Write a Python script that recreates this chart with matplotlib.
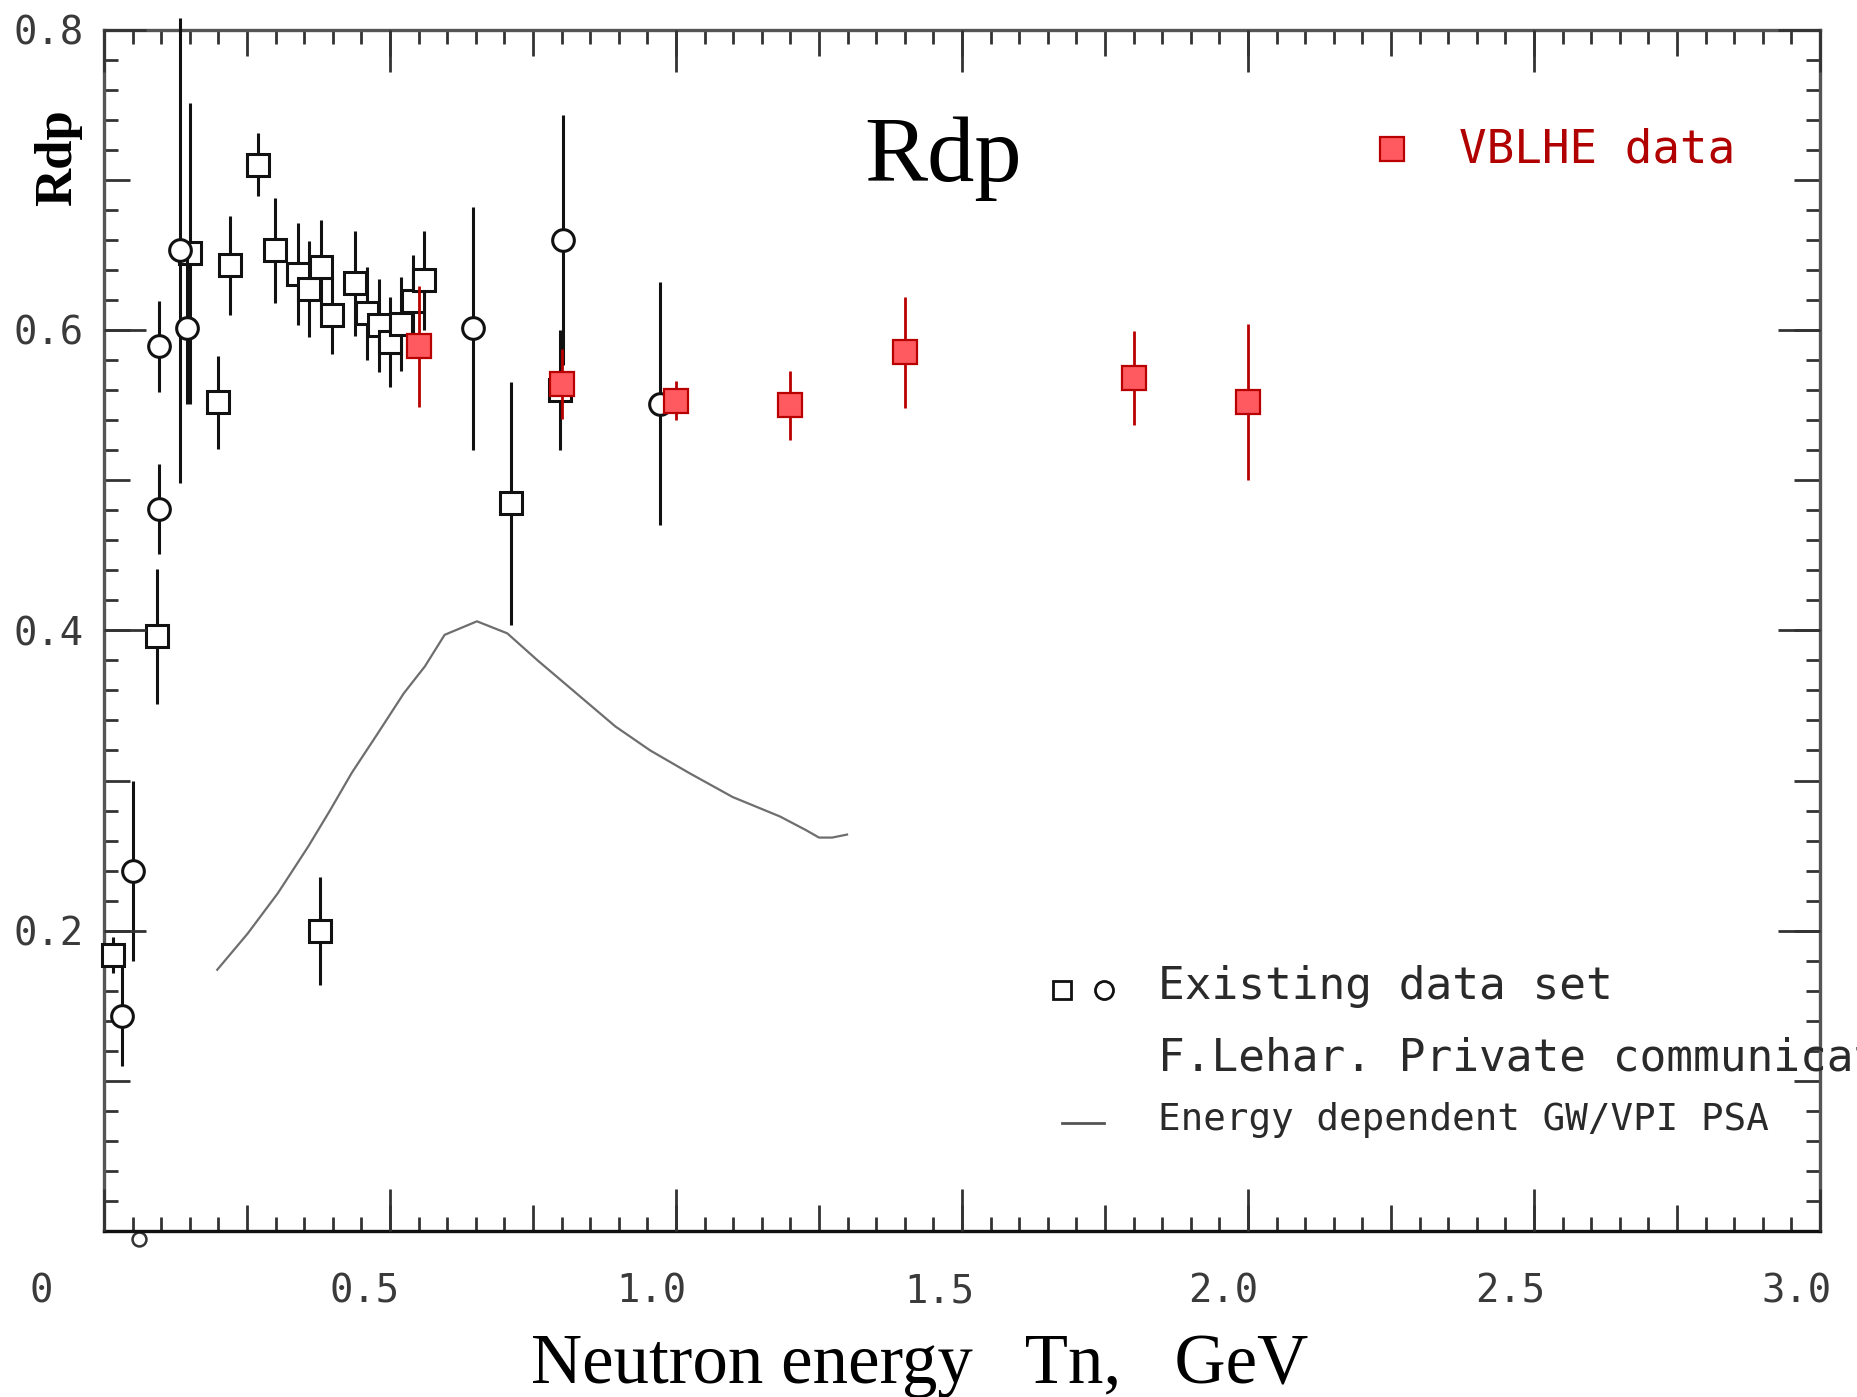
import numpy as np
import matplotlib.pyplot as plt
from matplotlib.ticker import MultipleLocator
from matplotlib.transforms import ScaledTranslation


# existing data set, squares
sq_x = [0.016, 0.092, 0.150, 0.200, 0.220, 0.269, 0.2995, 0.340, 0.359, 0.379,
        0.378, 0.398, 0.4395, 0.459, 0.480, 0.500, 0.520, 0.541, 0.559, 0.711, 0.797]
sq_y = [0.184, 0.396, 0.651, 0.552, 0.643, 0.710, 0.653, 0.637, 0.627, 0.642,
        0.200, 0.610, 0.631, 0.611, 0.603, 0.592, 0.604, 0.619, 0.633, 0.4845, 0.560]
sq_err = [0.012, 0.045, 0.100, 0.031, 0.033, 0.021, 0.035, 0.034, 0.032, 0.031,
          0.036, 0.026, 0.035, 0.031, 0.031, 0.030, 0.031, 0.031, 0.033, 0.081, 0.040]

# existing data set, circles
ci_x = [0.031, 0.050, 0.096, 0.096, 0.133, 0.1445, 0.6457, 0.802, 0.972]
ci_y = [0.143, 0.240, 0.589, 0.481, 0.653, 0.601, 0.601, 0.660, 0.551]
ci_err = [0.033, 0.060, 0.030, 0.030, 0.155, 0.050, 0.081, 0.083, 0.081]

# VBLHE data
vb_x = [0.551, 0.800, 1.000, 1.200, 1.400, 1.800, 2.000]
vb_y = [0.589, 0.564, 0.553, 0.550, 0.585, 0.568, 0.552]
vb_err = [0.040, 0.023, 0.013, 0.023, 0.037, 0.031, 0.052]

# energy dependent GW/VPI PSA
psa_x = [0.198, 0.251, 0.304, 0.357, 0.395, 0.433, 0.478, 0.524, 0.561, 0.5955,
         0.652, 0.705, 0.758, 0.826, 0.894, 0.955, 1.023, 1.099, 1.182, 1.227,
         1.250, 1.273, 1.299]
psa_y = [0.174, 0.198, 0.225, 0.256, 0.280, 0.305, 0.331, 0.358, 0.376, 0.397,
         0.406, 0.398, 0.380, 0.358, 0.336, 0.320, 0.305, 0.289, 0.276, 0.267,
         0.262, 0.262, 0.264]

x_ticks = [0, 0.5, 1.0, 1.5, 2.0, 2.5, 3.0]
x_labels = ["0", "0.5", "1.0", "1.5", "2.0", "2.5", "3.0"]
y_ticks = [0.2, 0.4, 0.6, 0.8]
y_labels = ["0.2", "0.4", "0.6", "0.8"]

black = "#111111"
red_edge = "#b80000"
red_face = "#ff5a5f"
mono = "DejaVu Sans Mono"
serif = "Liberation Serif"

fig = plt.figure(figsize=(18.57, 13.97), dpi=100)
ax = fig.add_axes([0.0560, 0.1188, 0.9241, 0.8600])
ax.set_xlim(0, 3)
ax.set_ylim(0, 0.8)

ax.xaxis.set_major_locator(MultipleLocator(0.25))
ax.xaxis.set_minor_locator(MultipleLocator(0.05))
ax.yaxis.set_major_locator(MultipleLocator(0.1))
ax.yaxis.set_minor_locator(MultipleLocator(0.02))
ax.tick_params(which="major", direction="in", length=19, width=2, color="#333333",
               top=True, right=True, labelbottom=False, labelleft=False)
ax.tick_params(which="minor", direction="in", length=10, width=2, color="#333333",
               top=True, right=True)
for s in ax.spines.values():
    s.set_linewidth(2.4)
    s.set_color("#555555")
ax.spines["bottom"].set_color(black)

# long ticks + labels on an overlay
ax2 = fig.add_axes(ax.get_position(), frameon=False)
ax2.set_xlim(0, 3)
ax2.set_ylim(0, 0.8)
ax2.set_xticks(x_ticks, x_labels)
ax2.set_yticks(y_ticks, y_labels)
ax2.tick_params(direction="in", length=30, width=2, color="#333333",
                top=True, right=True, labelsize=28, labelcolor="#3a3a3a")
ax2.tick_params(axis="x", pad=30)
ax2.tick_params(axis="y", pad=15)
for lab in ax2.get_xticklabels() + ax2.get_yticklabels():
    lab.set_family(mono)
offs = [-0.63, -0.25, -0.25, -0.23, -0.25, -0.24, -0.24]
for lab, dx in zip(ax2.get_xticklabels(), offs):
    lab.set_transform(lab.get_transform() + ScaledTranslation(dx, 0, fig.dpi_scale_trans))

# PSA curve
ax.plot(psa_x, psa_y, color="#6e6e6e", lw=1.6, zorder=2)

# existing data, drawn point by point like the original
for i in range(len(sq_x)):
    ax.errorbar([sq_x[i]], [sq_y[i]], yerr=[sq_err[i]], fmt="s", ms=15.6, mfc="white",
                mec=black, mew=2.2, ecolor=black, elinewidth=2.2, capsize=0,
                zorder=3 + i * 0.01, clip_on=False)
for i in range(len(ci_x)):
    ax.errorbar([ci_x[i]], [ci_y[i]], yerr=[ci_err[i]], fmt="o", ms=15.6, mfc="white",
                mec=black, mew=2.2, ecolor=black, elinewidth=2.2, capsize=0,
                zorder=3.5 + i * 0.01, clip_on=False)
# stray circle just below the axis
ax.plot([0.062], [-0.0055], "o", ms=10, mfc="white", mec="#333333", mew=1.8,
        zorder=2, clip_on=False)

ax.errorbar(vb_x, vb_y, yerr=vb_err, fmt="s", ms=17.7, mfc=red_face, mec=red_edge,
            mew=1.6, ecolor=red_edge, elinewidth=2.0, capsize=0, zorder=5)

# title
ax.text(0.489, 0.874, "Rdp", transform=ax.transAxes, ha="center", va="baseline",
        fontsize=68, family=serif)

# legends
ax.plot([0.7503], [0.9005], "s", transform=ax.transAxes, ms=17.7, mfc=red_face,
        mec=red_edge, mew=1.6, clip_on=False)
ax.text(0.7897, 0.8994, "VBLHE data", transform=ax.transAxes, ha="left", va="center",
        fontsize=33, family=mono, color="#b00000")

ax.plot([0.558], [0.2006], "s", transform=ax.transAxes, ms=13, mfc="white",
        mec=black, mew=2.0)
ax.plot([0.583], [0.2006], "o", transform=ax.transAxes, ms=13, mfc="white",
        mec=black, mew=2.0)
ax.text(0.614, 0.2035, "Existing data set", transform=ax.transAxes, ha="left",
        va="center", fontsize=32, family=mono, color="#2a2a2a")
# runs off the right edge, as in the original
ax.text(0.614, 0.1443, "F.Lehar. Private communication", transform=ax.transAxes,
        ha="left", va="center", fontsize=32, family=mono, color="#2a2a2a")
ax.plot([0.558, 0.583], [0.0901, 0.0901], transform=ax.transAxes, color="#555555", lw=2)
ax.text(0.614, 0.0924, "Energy dependent GW/VPI PSA", transform=ax.transAxes,
        ha="left", va="center", fontsize=27, family=mono, color="#2a2a2a")

# axis titles
fig.text(0.2857, 0.010, "Neutron energy   Tn,   GeV", ha="left", va="baseline",
         fontsize=51, family=serif)
fig.text(0.031, 0.887, "Rdp", rotation=90, ha="center", va="center", fontsize=38,
         fontweight="bold", family=serif)

fig.savefig("out.png", dpi=100)
